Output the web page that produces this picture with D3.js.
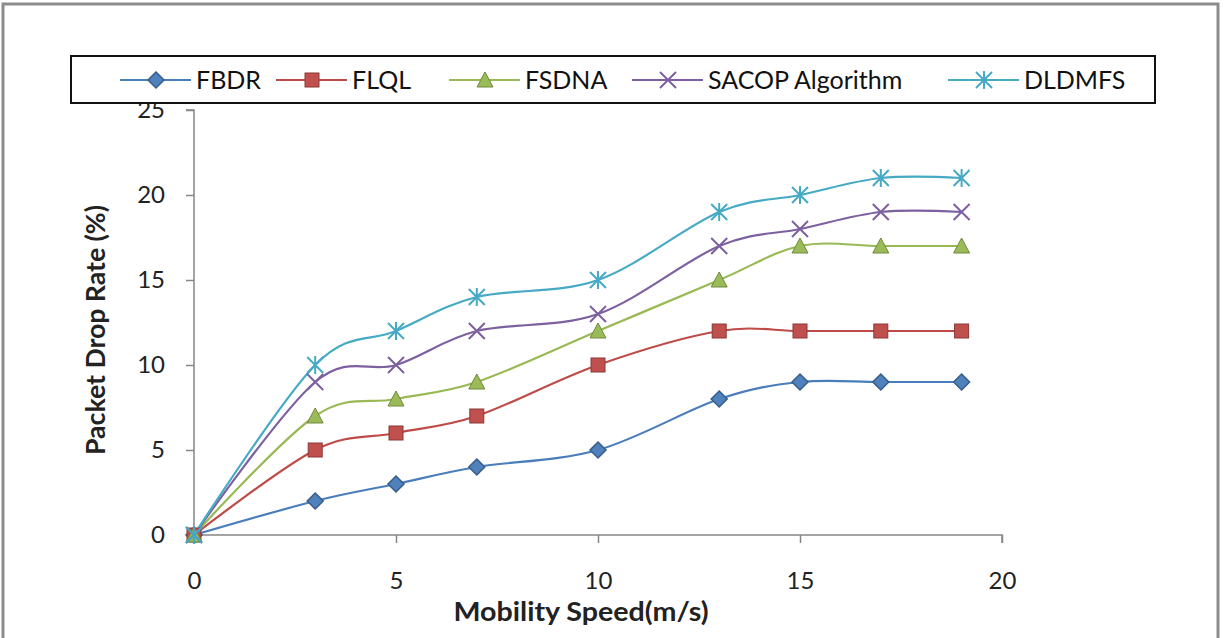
<!DOCTYPE html>
<html>
<head>
<meta charset="utf-8">
<script src="https://cdn.jsdelivr.net/npm/d3@7"></script>
<style>
  body { margin: 0; background: #fff; }
  svg { display: block; font-family: Lato, "Open Sans", sans-serif; }
</style>
</head>
<body>
<svg id="chart" width="1225" height="638"></svg>
<script>
// mobility speed (m/s)
const speeds = [0, 3, 5, 7, 10, 13, 15, 17, 19];
const fbdr = [0, 2, 3, 4, 5, 8, 9, 9, 9];
const flql = [0, 5, 6, 7, 10, 12, 12, 12, 12];
const fsdna = [0, 7, 8, 9, 12, 15, 17, 17, 17];
const sacop = [0, 9, 10, 12, 13, 17, 18, 19, 19];
const dldmfs = [0, 10, 12, 14, 15, 19, 20, 21, 21];
const xTicks = [0, 5, 10, 15, 20];
const yTicks = [0, 5, 10, 15, 20, 25];

const series = [
    { name: 'FBDR', values: fbdr, line: '#4a7ebb', fill: '#4f81bd', stroke: '#385d8a', marker: 'diamond' },
    { name: 'FLQL', values: flql, line: '#be4b48', fill: '#c0504d', stroke: '#8c3836', marker: 'square' },
    { name: 'FSDNA', values: fsdna, line: '#98b954', fill: '#9bbb59', stroke: '#71893f', marker: 'triangle' },
    { name: 'SACOP Algorithm', values: sacop, line: '#7d60a0', fill: '#8064a2', stroke: '#7d60a0', marker: 'x' },
    { name: 'DLDMFS', values: dldmfs, line: '#46aac5', fill: '#4bacc6', stroke: '#46aac5', marker: 'star' }
];

const svg = d3.select('#chart');

// outer frame
svg.append('rect')
    .attr('x', 3).attr('y', 4).attr('width', 1215).attr('height', 640)
    .attr('fill', 'none').attr('stroke', '#8c8c8c').attr('stroke-width', 3);

const x = d3.scaleLinear().domain([0, 20]).range([194, 1002]);
const y = d3.scaleLinear().domain([0, 25]).range([535, 110]);

// axes
const xAxis = svg.append('g')
    .attr('transform', 'translate(0,' + y(0) + ')')
    .call(d3.axisBottom(x).tickValues(xTicks).tickSize(8).tickPadding(29));
const yAxis = svg.append('g')
    .attr('transform', 'translate(' + x(0) + ',0)')
    .call(d3.axisLeft(y).tickValues(yTicks).tickSize(8).tickPadding(21));

[xAxis, yAxis].forEach(g => {
    g.select('.domain').attr('stroke', '#868686').attr('stroke-width', 1.5);
    g.selectAll('.tick line').attr('stroke', '#868686').attr('stroke-width', 1.5);
    g.selectAll('.tick text')
        .attr('fill', '#222')
        .style('font-size', '24px')
        .style('font-family', 'Lato, "Open Sans", sans-serif');
});
xAxis.select('.domain').attr('d', 'M' + x(0) + ',0H' + x(20) + 'V8');
yAxis.select('.domain').attr('d', 'M-8,' + y(25) + 'H0V' + y(0));

// axis titles
svg.append('text')
    .attr('x', 581).attr('y', 621)
    .attr('text-anchor', 'middle')
    .attr('textLength', 255).attr('lengthAdjust', 'spacingAndGlyphs')
    .style('font-size', '26px').style('font-weight', 'bold').attr('fill', '#222')
    .text('Mobility Speed(m/s)');
svg.append('text')
    .attr('transform', 'translate(105,330) rotate(-90)')
    .attr('text-anchor', 'middle')
    .attr('textLength', 250).attr('lengthAdjust', 'spacingAndGlyphs')
    .style('font-size', '26px').style('font-weight', 'bold').attr('fill', '#222')
    .text('Packet Drop Rate (%)');

function drawMarker(g, s, cx, cy) {
    if (s.marker === 'diamond') {
        g.append('path')
            .attr('d', 'M' + cx + ',' + (cy - 8) + 'L' + (cx + 8) + ',' + cy + 'L' + cx + ',' + (cy + 8) + 'L' + (cx - 8) + ',' + cy + 'Z')
            .attr('fill', s.fill).attr('stroke', s.stroke).attr('stroke-width', 1.5);
    } else if (s.marker === 'square') {
        g.append('rect')
            .attr('x', cx - 7).attr('y', cy - 7).attr('width', 14).attr('height', 14)
            .attr('fill', s.fill).attr('stroke', s.stroke).attr('stroke-width', 1);
    } else if (s.marker === 'triangle') {
        g.append('path')
            .attr('d', 'M' + cx + ',' + (cy - 8) + 'L' + (cx + 8) + ',' + (cy + 7) + 'L' + (cx - 8) + ',' + (cy + 7) + 'Z')
            .attr('fill', s.fill).attr('stroke', s.stroke).attr('stroke-width', 1);
    } else if (s.marker === 'x') {
        g.append('path')
            .attr('d', 'M' + (cx - 8) + ',' + (cy - 8) + 'L' + (cx + 8) + ',' + (cy + 8) + 'M' + (cx + 8) + ',' + (cy - 8) + 'L' + (cx - 8) + ',' + (cy + 8))
            .attr('stroke', s.stroke).attr('stroke-width', 2).attr('fill', 'none');
    } else {
        g.append('path')
            .attr('d', 'M' + (cx - 8) + ',' + (cy - 8) + 'L' + (cx + 8) + ',' + (cy + 8) + 'M' + (cx + 8) + ',' + (cy - 8) + 'L' + (cx - 8) + ',' + (cy + 8) +
                'M' + cx + ',' + (cy - 9) + 'V' + (cy + 9))
            .attr('stroke', s.stroke).attr('stroke-width', 2).attr('fill', 'none');
    }
}

const line = d3.line()
    .x((d, i) => x(speeds[i]))
    .y(d => y(d))
    .curve(d3.curveCardinal.tension(0));

series.forEach(s => {
    svg.append('path')
        .attr('d', line(s.values))
        .attr('fill', 'none')
        .attr('stroke', s.line)
        .attr('stroke-width', 2.2);
});
series.forEach(s => {
    const g = svg.append('g');
    s.values.forEach((v, i) => drawMarker(g, s, x(speeds[i]), y(v)));
});

// legend
svg.append('rect')
    .attr('x', 71).attr('y', 56).attr('width', 1084).attr('height', 47)
    .attr('fill', '#fff').attr('stroke', '#111').attr('stroke-width', 2);

const legendText = [196, 352, 525, 708, 1024];
series.forEach((s, i) => {
    const tx = legendText[i], ly = 80;
    const g = svg.append('g');
    g.append('line')
        .attr('x1', tx - 76).attr('x2', tx - 5).attr('y1', ly).attr('y2', ly)
        .attr('stroke', s.line).attr('stroke-width', 2);
    drawMarker(g, s, tx - 40, ly);
    g.append('text')
        .attr('x', tx).attr('y', ly + 9)
        .style('font-size', '25px').attr('fill', '#111')
        .text(s.name);
});
</script>
</body>
</html>
